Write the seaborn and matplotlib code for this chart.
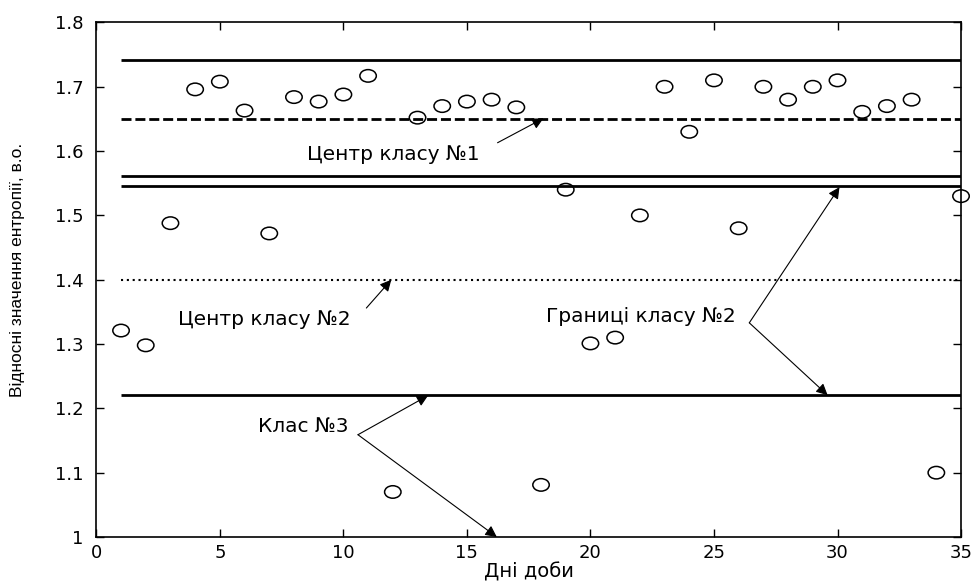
import numpy as np
import pandas as pd
import matplotlib
matplotlib.use('Agg')
import matplotlib.pyplot as plt
import seaborn as sns
from matplotlib import font_manager
from matplotlib.path import Path
from matplotlib.transforms import Affine2D

# days and relative entropy values
days = np.arange(1, 36)
entropy = [1.321, 1.298, 1.488, 1.696, 1.708, 1.663, 1.472, 1.684, 1.677, 1.688,
           1.717, 1.070, 1.652, 1.670, 1.677, 1.680, 1.668, 1.081, 1.540, 1.301,
           1.310, 1.500, 1.700, 1.630, 1.710, 1.480, 1.700, 1.680, 1.700, 1.710,
           1.661, 1.670, 1.680, 1.100, 1.530]

# class levels
class1_upper = 1.741
class1_center = 1.65
class2_upper = 1.562
class2_lower_top = 1.545
class2_center = 1.40
class3_bound = 1.22

df = pd.DataFrame({'day': days, 'entropy': entropy})

sns.set_style('ticks')
plt.rcParams['font.family'] = ['DejaVu Sans']
plt.rcParams['text.color'] = 'black'
plt.rcParams['axes.labelcolor'] = 'black'
names = {f.name for f in font_manager.fontManager.ttflist}
ylab_font = 'Liberation Sans Narrow' if 'Liberation Sans Narrow' in names else 'Liberation Sans'

fig = plt.figure(figsize=(9.73, 5.87), dpi=100)
ax = fig.add_axes([0.099, 0.0852, 0.8887, 0.8765])

# horizontal class lines
x0, x1 = days.min(), days.max()
ax.hlines([class1_upper, class2_upper, class2_lower_top, class3_bound], x0, x1,
          colors='black', linewidth=2)
ax.hlines(class1_center, x0, x1, colors='black', linewidth=2, linestyles=(0, (3.6, 1.4)))
ax.hlines(class2_center, x0, x1, colors='black', linewidth=1.5, linestyles=(0, (1, 1.8)))

# elliptical open markers (the original is stretched horizontally)
ellipse = Path.unit_circle().transformed(Affine2D().scale(1.0, 0.76))
sns.scatterplot(x='day', y='entropy', data=df, marker=ellipse, s=140,
                facecolor='none', edgecolor='black', linewidth=1.1, ax=ax,
                zorder=3, clip_on=False)

arrow = dict(arrowstyle='-|>', color='black', lw=0.8, mutation_scale=17, shrinkA=0, shrinkB=0)
fs = 14.5

ax.text(12.03, 1.594, 'Центр класу №1', ha='center', va='center', fontsize=fs)
ax.annotate('', xy=(18.1, 1.651), xytext=(16.24, 1.613), arrowprops=arrow)

ax.text(6.78, 1.338, 'Центр класу №2', ha='center', va='center', fontsize=fs)
ax.annotate('', xy=(11.94, 1.40), xytext=(10.93, 1.356), arrowprops=arrow)

ax.text(8.37, 1.172, 'Клас №3', ha='center', va='center', fontsize=fs)
ax.annotate('', xy=(13.43, 1.22), xytext=(10.59, 1.159), arrowprops=arrow)
ax.annotate('', xy=(16.21, 1.0), xytext=(10.59, 1.159), arrowprops=arrow)

ax.text(22.05, 1.343, 'Границі класу №2', ha='center', va='center', fontsize=fs)
ax.annotate('', xy=(30.08, 1.544), xytext=(26.43, 1.333), arrowprops=arrow)
ax.annotate('', xy=(29.6, 1.2205), xytext=(26.43, 1.333), arrowprops=arrow)

ax.set_xlim(0, 35)
ax.set_ylim(1, 1.8)
ax.set_xticks(np.arange(0, 36, 5))
ax.set_yticks(np.round(np.arange(1.0, 1.81, 0.1), 1))
ax.set_yticklabels(['1', '1.1', '1.2', '1.3', '1.4', '1.5', '1.6', '1.7', '1.8'])
ax.tick_params(direction='in', top=True, right=True, length=6, width=1,
               labelsize=13, colors='black')
ax.tick_params(axis='y', pad=9)
ax.tick_params(axis='x', pad=5)
for s in ax.spines.values():
    s.set_linewidth(1.2)
    s.set_color('black')

ax.set_xlabel('Дні доби', fontsize=14, labelpad=0)
ax.set_ylabel('Відносні значення ентропії, в.о.', fontsize=12.5,
              family=[ylab_font, 'DejaVu Sans'])
ax.yaxis.set_label_coords(-0.083, 0.52)

fig.savefig('out.png', dpi=100)
